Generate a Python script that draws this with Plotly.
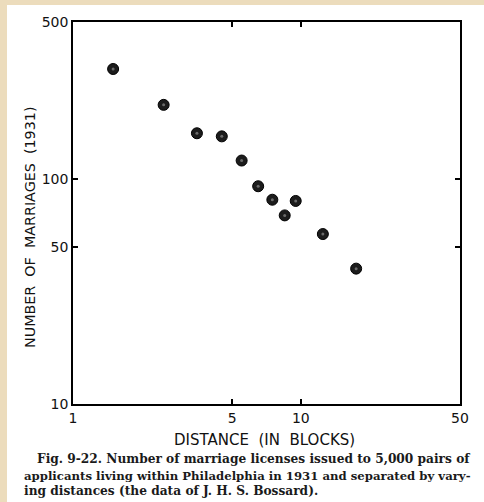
import plotly.graph_objects as go

# Data (distance in blocks, number of marriages 1931)
distance = [1.5, 2.5, 3.5, 4.5, 5.5, 6.5, 7.5, 8.5, 9.5, 12.5, 17.5]
marriages = [309, 214, 160, 155, 121, 93, 81, 69, 80, 57, 40]

x_ticks = [1, 5, 10, 50]
x_tick_text = ["1", "5", "10", "50"]
y_ticks = [10, 50, 100, 500]
y_tick_text = ["10", "50", "100", "500"]

x_title = "DISTANCE  (IN  BLOCKS)"
y_title = "NUMBER  OF  MARRIAGES  (1931)"
caption_lines = [
    "Fig. 9-22. Number of marriage licenses issued to 5,000 pairs of",
    "applicants living within Philadelphia in 1931 and separated by vary-",
    "ing distances (the data of J. H. S. Bossard).",
]
caption_sizes = [12.2, 11.7, 12.2]

W, H = 484, 502
ML, MR, MT, MB = 73, 24, 22, 98
PW, PH = W - ML - MR, H - MT - MB


def px_to_paper_x(px):
    return (px - ML) / PW


def px_to_paper_y(py):
    return (H - MB - py) / PH


sans = "DejaVu Sans"
serif = "DejaVu Serif"

fig = go.Figure()
fig.add_trace(go.Scatter(
    x=distance, y=marriages, mode="markers",
    marker=dict(size=11, color="#1c1c1c", line=dict(width=1, color="#000000")),
    showlegend=False, hoverinfo="x+y",
))
fig.add_trace(go.Scatter(
    x=distance, y=marriages, mode="markers",
    marker=dict(size=3, color="#6a6a6a"),
    showlegend=False, hoverinfo="skip",
))

axis_common = dict(
    type="log", showgrid=False, zeroline=False,
    showline=True, linecolor="#000000", linewidth=1.5, mirror="ticks",
    ticks="inside", ticklen=5, tickwidth=1.5, tickcolor="#000000",
    tickfont=dict(family=sans, size=14, color="#111111"),
)

fig.update_xaxes(range=[0, 1.69897], tickvals=x_ticks, ticktext=x_tick_text, **axis_common)
fig.update_yaxes(range=[1, 2.69897], tickvals=y_ticks, ticktext=y_tick_text, **axis_common)

annotations = [
    dict(text=x_title, x=px_to_paper_x(264), y=px_to_paper_y(440),
         xref="paper", yref="paper", showarrow=False, xanchor="center", yanchor="middle",
         font=dict(family=sans, size=15, color="#111111")),
    dict(text=y_title, x=px_to_paper_x(30), y=px_to_paper_y(228),
         xref="paper", yref="paper", showarrow=False, xanchor="center", yanchor="middle",
         textangle=-90, font=dict(family=sans, size=14.3, color="#111111")),
]
caption_pos = [(35, 459), (22, 476), (22, 491)]
for line, (cx, cy), fs in zip(caption_lines, caption_pos, caption_sizes):
    annotations.append(dict(
        text="<b>" + line + "</b>", x=px_to_paper_x(cx), y=px_to_paper_y(cy),
        xref="paper", yref="paper", showarrow=False, xanchor="left", yanchor="middle",
        font=dict(family=serif, size=fs, color="#1a1a1a")))

shapes = [
    dict(type="rect", xref="paper", yref="paper", layer="below",
         x0=px_to_paper_x(7), x1=px_to_paper_x(490),
         y0=px_to_paper_y(510), y1=px_to_paper_y(5),
         fillcolor="#ffffff", line=dict(width=0)),
]

fig.update_layout(
    width=W, height=H, autosize=False,
    margin=dict(l=ML, r=MR, t=MT, b=MB, pad=0),
    paper_bgcolor="#ecdcbc", plot_bgcolor="#ffffff",
    annotations=annotations, shapes=shapes,
)

fig.write_html(
    "out.html",
    config={"displayModeBar": False},
    post_script="document.body.style.margin='0';document.body.style.overflow='hidden';",
)
